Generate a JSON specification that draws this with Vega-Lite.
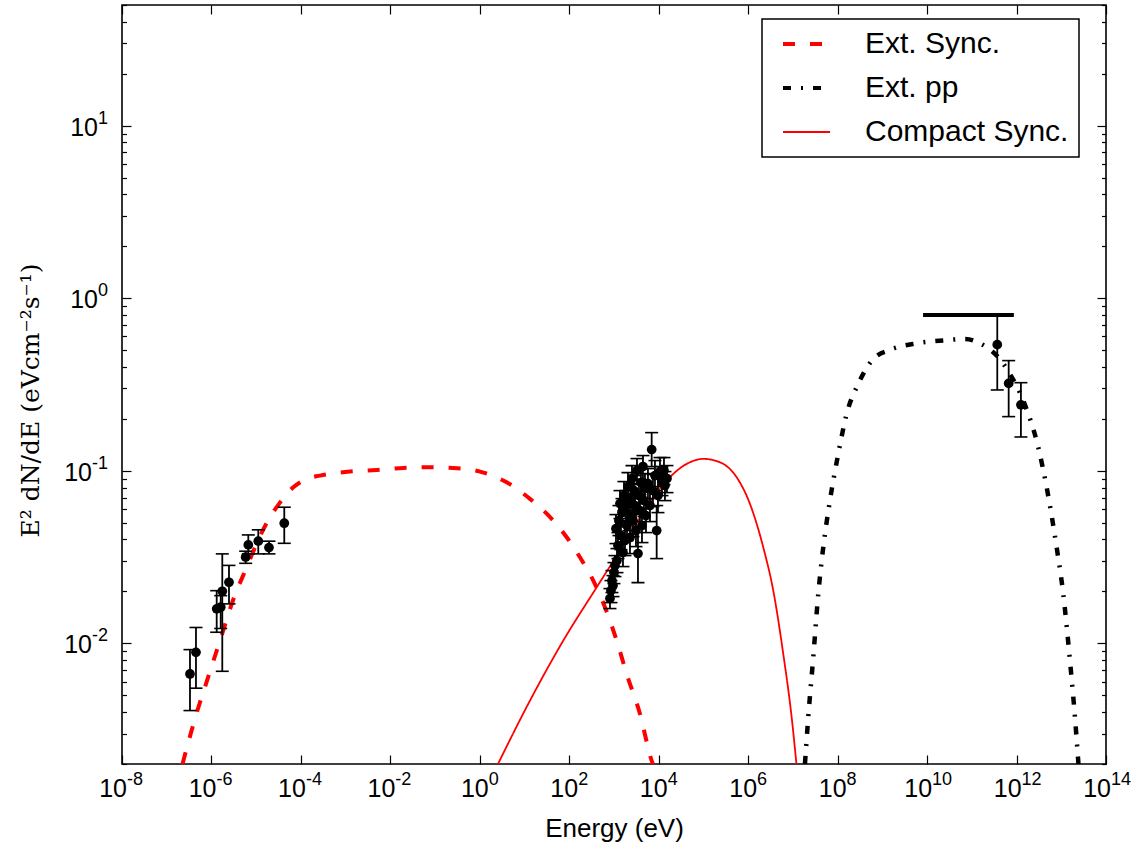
{
  "$schema": "https://vega.github.io/schema/vega-lite/v6.json",
  "width": 984,
  "height": 759,
  "autosize": {"type": "none"},
  "padding": {"left": 122, "top": 5, "right": 26, "bottom": 80},
  "background": "white",
  "config": {
    "font": "Liberation Sans",
    "view": {"stroke": "black", "strokeWidth": 1.6}
  },
  "datasets": {
    "curves": [
      {"s": "Ext. Sync.", "E": 2.254e-7, "F": 0.002},
      {"s": "Ext. Sync.", "E": 4.285e-7, "F": 0.003666},
      {"s": "Ext. Sync.", "E": 8.37e-7, "F": 0.006339},
      {"s": "Ext. Sync.", "E": 1.552e-6, "F": 0.01038},
      {"s": "Ext. Sync.", "E": 3.19e-6, "F": 0.01842},
      {"s": "Ext. Sync.", "E": 6.14e-6, "F": 0.02761},
      {"s": "Ext. Sync.", "E": 1.098e-5, "F": 0.0394},
      {"s": "Ext. Sync.", "E": 1.837e-5, "F": 0.05146},
      {"s": "Ext. Sync.", "E": 3.4e-5, "F": 0.06541},
      {"s": "Ext. Sync.", "E": 6.755e-5, "F": 0.08024},
      {"s": "Ext. Sync.", "E": 1.233e-4, "F": 0.0889},
      {"s": "Ext. Sync.", "E": 2.671e-4, "F": 0.0938},
      {"s": "Ext. Sync.", "E": 1.251e-3, "F": 0.09895},
      {"s": "Ext. Sync.", "E": 4.943e-3, "F": 0.1012},
      {"s": "Ext. Sync.", "E": 0.01945, "F": 0.1039},
      {"s": "Ext. Sync.", "E": 0.07691, "F": 0.1048},
      {"s": "Ext. Sync.", "E": 0.2551, "F": 0.1039},
      {"s": "Ext. Sync.", "E": 1.008, "F": 0.09895},
      {"s": "Ext. Sync.", "E": 3.986, "F": 0.08579},
      {"s": "Ext. Sync.", "E": 13.23, "F": 0.06875},
      {"s": "Ext. Sync.", "E": 43.88, "F": 0.05146},
      {"s": "Ext. Sync.", "E": 87.5, "F": 0.04118},
      {"s": "Ext. Sync.", "E": 173.4, "F": 0.03153},
      {"s": "Ext. Sync.", "E": 344.3, "F": 0.02311},
      {"s": "Ext. Sync.", "E": 628.1, "F": 0.01619},
      {"s": "Ext. Sync.", "E": 1147, "F": 0.01038},
      {"s": "Ext. Sync.", "E": 1919, "F": 0.006657},
      {"s": "Ext. Sync.", "E": 3807, "F": 0.003904},
      {"s": "Ext. Sync.", "E": 6950, "F": 0.002094},
      {"s": "Ext. Sync.", "E": 7430, "F": 0.002},
      {"s": "Compact Sync.", "E": 2.547, "F": 0.002},
      {"s": "Compact Sync.", "E": 13.23, "F": 0.004661},
      {"s": "Compact Sync.", "E": 73.45, "F": 0.01038},
      {"s": "Compact Sync.", "E": 409.7, "F": 0.02113},
      {"s": "Compact Sync.", "E": 1360, "F": 0.03449},
      {"s": "Compact Sync.", "E": 5370, "F": 0.06144},
      {"s": "Compact Sync.", "E": 15030, "F": 0.08774},
      {"s": "Compact Sync.", "E": 42130, "F": 0.1096},
      {"s": "Compact Sync.", "E": 99100, "F": 0.1172},
      {"s": "Compact Sync.", "E": 233900, "F": 0.112},
      {"s": "Compact Sync.", "E": 552600, "F": 0.09169},
      {"s": "Compact Sync.", "E": 1.096e6, "F": 0.06429},
      {"s": "Compact Sync.", "E": 2.173e6, "F": 0.03604},
      {"s": "Compact Sync.", "E": 3.638e6, "F": 0.02022},
      {"s": "Compact Sync.", "E": 6.083e6, "F": 0.008694},
      {"s": "Compact Sync.", "E": 9.376e6, "F": 0.003731},
      {"s": "Compact Sync.", "E": 1.2e7, "F": 0.002},
      {"s": "Ext. pp", "E": 1.859e7, "F": 0.002},
      {"s": "Ext. pp", "E": 2.203e7, "F": 0.003731},
      {"s": "Ext. pp", "E": 2.851e7, "F": 0.008308},
      {"s": "Ext. pp", "E": 3.69e7, "F": 0.01935},
      {"s": "Ext. pp", "E": 4.774e7, "F": 0.03604},
      {"s": "Ext. pp", "E": 6.73e7, "F": 0.06719},
      {"s": "Ext. pp", "E": 1.032e8, "F": 0.1253},
      {"s": "Ext. pp", "E": 1.591e8, "F": 0.2136},
      {"s": "Ext. pp", "E": 2.891e8, "F": 0.3188},
      {"s": "Ext. pp", "E": 6.256e8, "F": 0.4448},
      {"s": "Ext. pp", "E": 1.478e9, "F": 0.5017},
      {"s": "Ext. pp", "E": 5.844e9, "F": 0.548},
      {"s": "Ext. pp", "E": 3.243e10, "F": 0.5734},
      {"s": "Ext. pp", "E": 7.022e10, "F": 0.5811},
      {"s": "Ext. pp", "E": 1.52e11, "F": 0.548},
      {"s": "Ext. pp", "E": 3.591e11, "F": 0.465},
      {"s": "Ext. pp", "E": 7.121e11, "F": 0.3641},
      {"s": "Ext. pp", "E": 1.413e12, "F": 0.2551},
      {"s": "Ext. pp", "E": 3.056e12, "F": 0.1368},
      {"s": "Ext. pp", "E": 4.71e12, "F": 0.08024},
      {"s": "Ext. pp", "E": 7.881e12, "F": 0.03604},
      {"s": "Ext. pp", "E": 1.107e13, "F": 0.01935},
      {"s": "Ext. pp", "E": 1.563e13, "F": 0.007952},
      {"s": "Ext. pp", "E": 2.023e13, "F": 0.003731},
      {"s": "Ext. pp", "E": 2.421e13, "F": 0.002}
    ],
    "pts": [
      {"E": 3.311e-7, "F": 0.00665, "lo": 0.00408, "hi": 0.0092},
      {"E": 4.508e-7, "F": 0.00887, "lo": 0.0055, "hi": 0.01236},
      {"E": 1.309e-6, "F": 0.01585, "lo": 0.0116, "hi": 0.0202},
      {"E": 1.611e-6, "F": 0.0162, "lo": 0.0122, "hi": 0.0189},
      {"E": 1.746e-6, "F": 0.02004, "lo": 0.00689, "hi": 0.033},
      {"E": 2.466e-6, "F": 0.0226, "lo": 0.01694, "hi": 0.0283},
      {"E": 5.821e-6, "F": 0.0316, "lo": 0.0291, "hi": 0.0342},
      {"E": 6.668e-6, "F": 0.0372, "lo": 0.033, "hi": 0.0425},
      {"E": 1.114e-5, "F": 0.0391, "lo": 0.033, "hi": 0.0455},
      {"E": 1.932e-5, "F": 0.0359, "lo": 0.033, "hi": 0.0391},
      {"E": 4.246e-5, "F": 0.0497, "lo": 0.038, "hi": 0.0615},
      {"E": 812.6, "F": 0.01818, "lo": 0.01591, "hi": 0.02077},
      {"E": 855.7, "F": 0.02022, "lo": 0.01723, "hi": 0.02311},
      {"E": 900.6, "F": 0.02311, "lo": 0.0197, "hi": 0.02641},
      {"E": 948.4, "F": 0.02162, "lo": 0.01867, "hi": 0.0247},
      {"E": 998.4, "F": 0.0257, "lo": 0.0222, "hi": 0.02938},
      {"E": 1051, "F": 0.02823, "lo": 0.02438, "hi": 0.03226},
      {"E": 1107, "F": 0.04625, "lo": 0.03786, "hi": 0.05574},
      {"E": 1165, "F": 0.03017, "lo": 0.0257, "hi": 0.03541},
      {"E": 1227, "F": 0.03686, "lo": 0.03099, "hi": 0.04384},
      {"E": 1292, "F": 0.05145, "lo": 0.04212, "hi": 0.06286},
      {"E": 1360, "F": 0.06457, "lo": 0.05284, "hi": 0.07677},
      {"E": 1432, "F": 0.04212, "lo": 0.03494, "hi": 0.05077},
      {"E": 1508, "F": 0.05725, "lo": 0.0475, "hi": 0.06899},
      {"E": 1587, "F": 0.03357, "lo": 0.02786, "hi": 0.04048},
      {"E": 1671, "F": 0.07181, "lo": 0.05879, "hi": 0.0866},
      {"E": 1759, "F": 0.0394, "lo": 0.03226, "hi": 0.0475},
      {"E": 1852, "F": 0.06286, "lo": 0.05145, "hi": 0.07677},
      {"E": 1950, "F": 0.04813, "lo": 0.0394, "hi": 0.05879},
      {"E": 2053, "F": 0.08101, "lo": 0.06629, "hi": 0.09763},
      {"E": 2161, "F": 0.055, "lo": 0.04503, "hi": 0.06717},
      {"E": 2275, "F": 0.04102, "lo": 0.03313, "hi": 0.05077},
      {"E": 2395, "F": 0.06899, "lo": 0.05649, "hi": 0.08432},
      {"E": 2522, "F": 0.09015, "lo": 0.07375, "hi": 0.1072},
      {"E": 2655, "F": 0.05145, "lo": 0.04157, "hi": 0.0637},
      {"E": 2795, "F": 0.07677, "lo": 0.06286, "hi": 0.0938},
      {"E": 2943, "F": 0.06286, "lo": 0.05077, "hi": 0.0778},
      {"E": 3098, "F": 0.04503, "lo": 0.03637, "hi": 0.05574},
      {"E": 3262, "F": 0.1003, "lo": 0.08318, "hi": 0.1177},
      {"E": 3435, "F": 0.03313, "lo": 0.0225, "hi": 0.04625},
      {"E": 3615, "F": 0.07181, "lo": 0.05802, "hi": 0.08895},
      {"E": 3807, "F": 0.05879, "lo": 0.0475, "hi": 0.07277},
      {"E": 4008, "F": 0.08545, "lo": 0.06991, "hi": 0.103},
      {"E": 4220, "F": 0.04813, "lo": 0.03837, "hi": 0.0604},
      {"E": 4442, "F": 0.1058, "lo": 0.08895, "hi": 0.1225},
      {"E": 4677, "F": 0.06717, "lo": 0.05428, "hi": 0.08318},
      {"E": 4923, "F": 0.07883, "lo": 0.06457, "hi": 0.09634},
      {"E": 5183, "F": 0.055, "lo": 0.04384, "hi": 0.06899},
      {"E": 5745, "F": 0.08432, "lo": 0.06899, "hi": 0.103},
      {"E": 6370, "F": 0.06286, "lo": 0.05077, "hi": 0.0778},
      {"E": 6953, "F": 0.1327, "lo": 0.1058, "hi": 0.1664},
      {"E": 7433, "F": 0.07677, "lo": 0.06203, "hi": 0.09506},
      {"E": 8241, "F": 0.0938, "lo": 0.07677, "hi": 0.1146},
      {"E": 8993, "F": 0.04503, "lo": 0.03099, "hi": 0.06286},
      {"E": 9614, "F": 0.07181, "lo": 0.05725, "hi": 0.09015},
      {"E": 10660, "F": 0.09895, "lo": 0.08101, "hi": 0.1193},
      {"E": 11810, "F": 0.08777, "lo": 0.07181, "hi": 0.1058},
      {"E": 13100, "F": 0.1003, "lo": 0.08318, "hi": 0.1193},
      {"E": 13790, "F": 0.08208, "lo": 0.06717, "hi": 0.09895},
      {"E": 15290, "F": 0.09015, "lo": 0.07474, "hi": 0.1072},
      {"E": 3.707e11, "F": 0.538, "lo": 0.294, "hi": 0.8},
      {"E": 6.668e11, "F": 0.321, "lo": 0.206, "hi": 0.435},
      {"E": 1.253e12, "F": 0.241, "lo": 0.157, "hi": 0.324}
    ],
    "ul": [
      {"E": 8.13e9, "E2": 8.71e11, "F": 0.8}
    ],
    "xt": [
      {"v": 1e-8, "e": "-8"},
      {"v": 1e-6, "e": "-6"},
      {"v": 1e-4, "e": "-4"},
      {"v": 0.01, "e": "-2"},
      {"v": 1, "e": "0"},
      {"v": 100, "e": "2"},
      {"v": 10000, "e": "4"},
      {"v": 1e6, "e": "6"},
      {"v": 1e8, "e": "8"},
      {"v": 1e10, "e": "10"},
      {"v": 1e12, "e": "12"},
      {"v": 1e14, "e": "14"}
    ],
    "yt": [
      {"v": 0.01, "e": "-2"},
      {"v": 0.1, "e": "-1"},
      {"v": 1, "e": "0"},
      {"v": 10, "e": "1"}
    ]
  },
  "resolve": {
    "scale": {"x": "shared", "y": "shared"},
    "axis": {"x": "independent", "y": "independent"}
  },
  "layer": [
    {
      "data": {"name": "curves"},
      "transform": [{"filter": "datum.s === 'Ext. Sync.'"}],
      "mark": {"type": "line", "clip": true, "strokeCap": "butt", "strokeWidth": 4, "interpolate": "monotone"},
      "encoding": {
        "x": {
          "field": "E", "type": "quantitative",
          "scale": {"type": "log", "domain": [1e-8, 1e14], "nice": false},
          "axis": {
            "orient": "bottom",
            "values": [1e-8, 1e-6, 1e-4, 0.01, 1, 100, 10000, 1e6, 1e8, 1e10, 1e12, 1e14],
            "tickSize": -9, "tickWidth": 1.2, "tickColor": "black",
            "domain": false, "grid": false, "labels": false,
            "title": "Energy (eV)", "titleFont": "Liberation Sans", "titleFontSize": 26,
            "titleFontWeight": "normal", "titleColor": "black",
            "titleY": 64, "titleBaseline": "middle"
          }
        },
        "y": {
          "field": "F", "type": "quantitative",
          "scale": {"type": "log", "domain": [0.002, 50], "nice": false},
          "axis": {
            "orient": "left",
            "values": [0.01, 0.1, 1, 10],
            "tickSize": -9, "tickWidth": 1.2, "tickColor": "black",
            "domain": false, "grid": false, "labels": false,
            "title": "E² dN/dE (eVcm⁻²s⁻¹)", "titleFont": "DejaVu Serif", "titleFontSize": 25,
            "titleFontWeight": "normal", "titleColor": "black",
            "titleX": -92, "titleY": 395, "titleAngle": -90,
            "titleBaseline": "middle", "titleAlign": "center"
          }
        },
        "color": {
          "field": "s", "type": "nominal",
          "scale": {"domain": ["Ext. Sync.", "Ext. pp", "Compact Sync."], "range": ["#ff0000", "#000000", "#ff0000"]},
          "legend": {
            "orient": "none", "legendX": 640, "legendY": 14,
            "title": null, "strokeColor": "black", "fillColor": "white",
            "padding": 10, "labelFont": "Liberation Sans", "labelFontSize": 30, "labelColor": "black",
            "labelLimit": 500,
            "symbolType": "M-0.34,0H3.66", "symbolSize": 552.25, "labelOffset": 63, "rowPadding": 14,
            "symbolStrokeWidth": 4,
            "encode": {
              "legend": {"update": {"strokeWidth": {"value": 1.5}}},
              "symbols": {"update": {"strokeWidth": {"signal": "datum.value === 'Compact Sync.' ? 2 : 4"}, "fill": {"value": "transparent"}}}
            }
          }
        },
        "strokeDash": {
          "field": "s", "type": "nominal",
          "scale": {"domain": ["Ext. Sync.", "Ext. pp", "Compact Sync."], "range": [[12, 15], [8, 10, 2, 10], [1, 0]]}
        }
      }
    },
    {
      "data": {"name": "curves"},
      "transform": [{"filter": "datum.s === 'Ext. pp'"}],
      "mark": {"type": "line", "clip": true, "strokeCap": "butt", "strokeWidth": 4.5, "interpolate": "monotone"},
      "encoding": {
        "x": {"field": "E", "type": "quantitative", "axis": null},
        "y": {"field": "F", "type": "quantitative", "axis": null},
        "color": {"field": "s", "type": "nominal", "legend": null},
        "strokeDash": {"field": "s", "type": "nominal", "legend": null}
      }
    },
    {
      "data": {"name": "curves"},
      "transform": [{"filter": "datum.s === 'Compact Sync.'"}],
      "mark": {"type": "line", "clip": true, "strokeCap": "butt", "strokeWidth": 1.8, "interpolate": "monotone"},
      "encoding": {
        "x": {"field": "E", "type": "quantitative", "axis": null},
        "y": {"field": "F", "type": "quantitative", "axis": null},
        "color": {"field": "s", "type": "nominal", "legend": null},
        "strokeDash": {"field": "s", "type": "nominal", "legend": null}
      }
    },
    {
      "data": {"name": "pts"},
      "mark": {"type": "rule", "color": "black", "strokeWidth": 1.8, "clip": true},
      "encoding": {
        "x": {
          "field": "E", "type": "quantitative",
          "axis": {
            "orient": "top",
            "values": [1e-8, 1e-6, 1e-4, 0.01, 1, 100, 10000, 1e6, 1e8, 1e10, 1e12, 1e14],
            "tickSize": -9, "tickWidth": 1.2, "tickColor": "black",
            "domain": false, "grid": false, "labels": false, "title": null
          }
        },
        "y": {
          "field": "lo", "type": "quantitative",
          "axis": {
            "orient": "right",
            "values": [0.01, 0.1, 1, 10],
            "tickSize": -9, "tickWidth": 1.2, "tickColor": "black",
            "domain": false, "grid": false, "labels": false, "title": null
          }
        },
        "y2": {"field": "hi"}
      }
    },
    {
      "data": {"name": "pts"},
      "mark": {"type": "tick", "orient": "horizontal", "size": 13, "thickness": 1.6, "color": "black", "opacity": 1, "clip": true},
      "encoding": {
        "x": {"field": "E", "type": "quantitative", "axis": null},
        "y": {
          "field": "lo", "type": "quantitative",
          "axis": {
            "orient": "left",
            "values": [0.002, 0.003, 0.004, 0.005, 0.006, 0.007, 0.008, 0.009, 0.02, 0.03, 0.04, 0.05, 0.06, 0.07, 0.08, 0.09, 0.2, 0.3, 0.4, 0.5, 0.6, 0.7, 0.8, 0.9, 2, 3, 4, 5, 6, 7, 8, 9, 20, 30, 40, 50],
            "tickSize": -4.5, "tickWidth": 1.2, "tickColor": "black",
            "domain": false, "grid": false, "labels": false, "title": null
          }
        }
      }
    },
    {
      "data": {"name": "pts"},
      "mark": {"type": "tick", "orient": "horizontal", "size": 13, "thickness": 1.6, "color": "black", "opacity": 1, "clip": true},
      "encoding": {
        "x": {"field": "E", "type": "quantitative", "axis": null},
        "y": {
          "field": "hi", "type": "quantitative",
          "axis": {
            "orient": "right",
            "values": [0.002, 0.003, 0.004, 0.005, 0.006, 0.007, 0.008, 0.009, 0.02, 0.03, 0.04, 0.05, 0.06, 0.07, 0.08, 0.09, 0.2, 0.3, 0.4, 0.5, 0.6, 0.7, 0.8, 0.9, 2, 3, 4, 5, 6, 7, 8, 9, 20, 30, 40, 50],
            "tickSize": -4.5, "tickWidth": 1.2, "tickColor": "black",
            "domain": false, "grid": false, "labels": false, "title": null
          }
        }
      }
    },
    {
      "data": {"name": "pts"},
      "mark": {"type": "point", "shape": "circle", "filled": true, "size": 95, "color": "black", "opacity": 1, "clip": true},
      "encoding": {
        "x": {"field": "E", "type": "quantitative", "axis": null},
        "y": {"field": "F", "type": "quantitative", "axis": null}
      }
    },
    {
      "data": {"name": "ul"},
      "mark": {"type": "rule", "color": "black", "strokeWidth": 4, "clip": true},
      "encoding": {
        "x": {"field": "E", "type": "quantitative", "axis": null},
        "x2": {"field": "E2"},
        "y": {"field": "F", "type": "quantitative", "axis": null}
      }
    },
    {
      "data": {"name": "xt"},
      "transform": [{"filter": "length(datum.e) == 1"}],
      "mark": {"type": "text", "align": "right", "baseline": "alphabetic", "dx": 8.9, "dy": 33, "fontSize": 25, "font": "Liberation Sans", "color": "black"},
      "encoding": {
        "x": {"field": "v", "type": "quantitative", "axis": null},
        "y": {"datum": 0.002, "type": "quantitative", "axis": null},
        "text": {"value": "10"}
      }
    },
    {
      "data": {"name": "xt"},
      "transform": [{"filter": "length(datum.e) == 1"}],
      "mark": {"type": "text", "align": "left", "baseline": "alphabetic", "dx": 8.9, "dy": 21, "fontSize": 18, "font": "Liberation Sans", "color": "black"},
      "encoding": {
        "x": {"field": "v", "type": "quantitative", "axis": null},
        "y": {"datum": 0.002, "type": "quantitative", "axis": null},
        "text": {"field": "e"}
      }
    },
    {
      "data": {"name": "xt"},
      "transform": [{"filter": "length(datum.e) == 2"}],
      "mark": {"type": "text", "align": "right", "baseline": "alphabetic", "dx": 5, "dy": 33, "fontSize": 25, "font": "Liberation Sans", "color": "black"},
      "encoding": {
        "x": {"field": "v", "type": "quantitative", "axis": null},
        "y": {"datum": 0.002, "type": "quantitative", "axis": null},
        "text": {"value": "10"}
      }
    },
    {
      "data": {"name": "xt"},
      "transform": [{"filter": "length(datum.e) == 2"}],
      "mark": {"type": "text", "align": "left", "baseline": "alphabetic", "dx": 5, "dy": 21, "fontSize": 18, "font": "Liberation Sans", "color": "black"},
      "encoding": {
        "x": {"field": "v", "type": "quantitative", "axis": null},
        "y": {"datum": 0.002, "type": "quantitative", "axis": null},
        "text": {"field": "e"}
      }
    },
    {
      "data": {"name": "yt"},
      "mark": {"type": "text", "align": "right", "baseline": "alphabetic", "dx": -14, "dy": -2, "fontSize": 18, "font": "Liberation Sans", "color": "black"},
      "encoding": {
        "x": {"datum": 1e-8, "type": "quantitative", "axis": null},
        "y": {"field": "v", "type": "quantitative", "axis": null},
        "text": {"field": "e"}
      }
    },
    {
      "data": {"name": "yt"},
      "transform": [{"filter": "length(datum.e) == 1"}],
      "mark": {"type": "text", "align": "right", "baseline": "alphabetic", "dx": -24, "dy": 10, "fontSize": 25, "font": "Liberation Sans", "color": "black"},
      "encoding": {
        "x": {"datum": 1e-8, "type": "quantitative", "axis": null},
        "y": {"field": "v", "type": "quantitative", "axis": null},
        "text": {"value": "10"}
      }
    },
    {
      "data": {"name": "yt"},
      "transform": [{"filter": "length(datum.e) == 2"}],
      "mark": {"type": "text", "align": "right", "baseline": "alphabetic", "dx": -30, "dy": 10, "fontSize": 25, "font": "Liberation Sans", "color": "black"},
      "encoding": {
        "x": {"datum": 1e-8, "type": "quantitative", "axis": null},
        "y": {"field": "v", "type": "quantitative", "axis": null},
        "text": {"value": "10"}
      }
    }
  ]
}
